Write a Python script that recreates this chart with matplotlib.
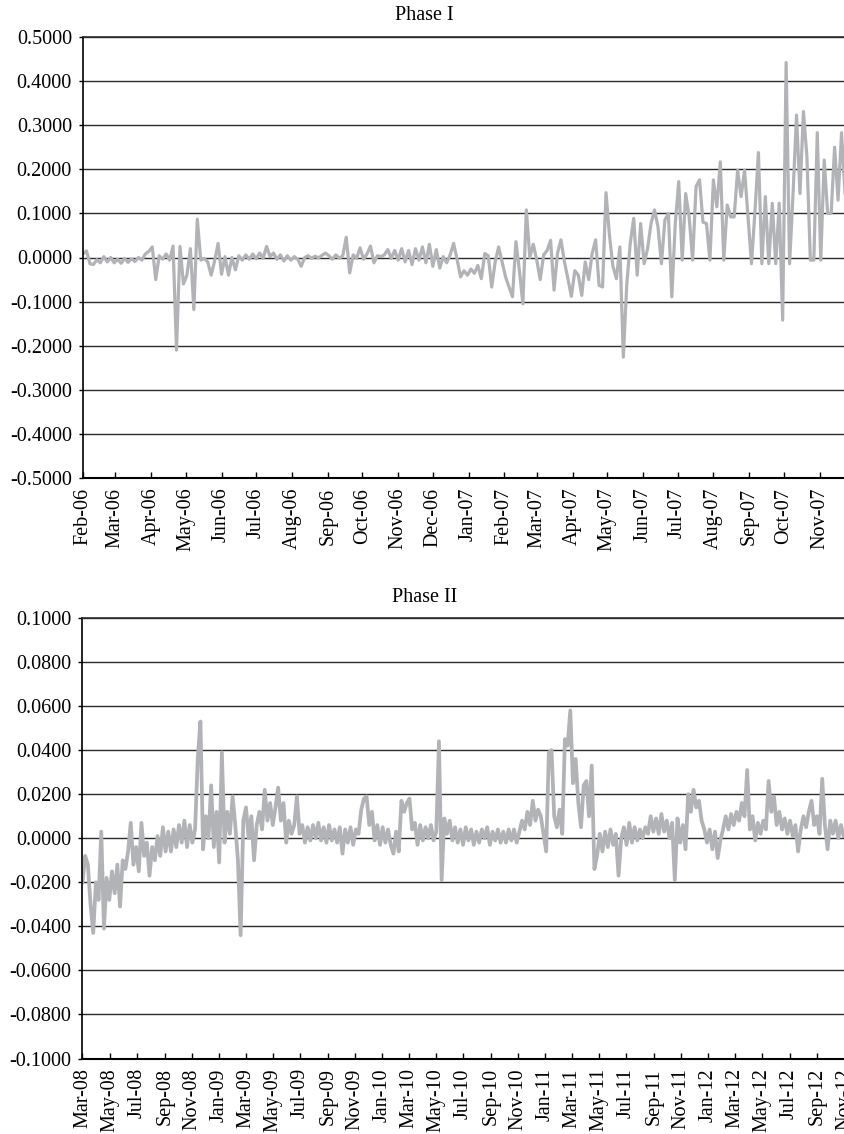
import numpy as np
import pandas as pd
import matplotlib
matplotlib.use('Agg')
import matplotlib.pyplot as plt
import matplotlib.dates as mdates
from matplotlib.ticker import FuncFormatter

plt.rcParams['font.family'] = ['Liberation Serif', 'DejaVu Serif']
plt.rcParams['font.size'] = 14.5

# Phase I: one reading every 3 days from 1 Feb 2006
phase1_start = '2006-02-01'
phase1 = [
    0.008, 0.015, -0.014, -0.016, -0.005, -0.012, 0.002, -0.010, 0.000, -0.012,
    -0.004, -0.013, -0.002, -0.011, -0.003, -0.009, 0.000, -0.006, 0.008, 0.014,
    0.024, -0.050, 0.004, -0.004, 0.008, -0.006, 0.026, -0.210, 0.025, -0.060,
    -0.040, 0.020, -0.118, 0.087, -0.006, -0.002, -0.010, -0.040, -0.008, 0.032,
    -0.038, 0.002, -0.040, 0.000, -0.028, 0.004, -0.006, 0.006, -0.004, 0.008,
    -0.003, 0.010, -0.002, 0.025, 0.002, 0.010, -0.004, 0.006, -0.008, 0.004,
    -0.006, 0.002, -0.004, -0.020, 0.000, 0.004, -0.002, 0.003, -0.001, 0.005,
    0.010, 0.004, -0.004, 0.006, -0.002, 0.004, 0.046, -0.035, 0.006, -0.002,
    0.022, -0.004, 0.008, 0.026, -0.012, 0.004, 0.002, 0.006, 0.018, -0.002,
    0.016, -0.006, 0.020, -0.010, 0.016, -0.016, 0.020, -0.006, 0.024, -0.012,
    0.030, -0.020, 0.018, -0.024, 0.002, -0.012, 0.006, 0.032, -0.004, -0.044,
    -0.030, -0.040, -0.026, -0.036, -0.018, -0.048, 0.009, 0.004, -0.067, -0.010,
    0.024, -0.010, -0.044, -0.067, -0.089, 0.036, -0.030, -0.105, 0.108, 0.000,
    0.030, -0.006, -0.050, 0.006, 0.016, 0.039, -0.074, 0.010, 0.040, -0.010,
    -0.048, -0.088, -0.030, -0.040, -0.086, -0.010, -0.050, 0.009, 0.040, -0.063,
    -0.067, 0.147, 0.050, -0.020, -0.048, 0.024, -0.226, -0.060, 0.032, 0.089,
    -0.040, 0.077, -0.014, 0.020, 0.077, 0.108, 0.070, -0.014, 0.085, 0.100,
    -0.089, 0.077, 0.172, -0.006, 0.145, 0.092, -0.006, 0.161, 0.176, 0.080,
    0.077, -0.006, 0.176, 0.115, 0.217, -0.006, 0.119, 0.092, 0.092, 0.198,
    0.138, 0.198, 0.092, -0.014, 0.104, 0.238, -0.014, 0.138, -0.014, 0.123,
    -0.014, 0.123, -0.142, 0.442, -0.014, 0.145, 0.323, 0.145, 0.331, 0.229,
    -0.006, -0.006, 0.283, -0.006, 0.221, 0.100, 0.100, 0.250, 0.130, 0.283,
    0.145,
]

# Phase II: one reading every 6 days from 1 Mar 2008
phase2_start = '2008-03-01'
phase2 = [
    -0.020, -0.008, -0.012, -0.030, -0.043, -0.020, -0.028, 0.003, -0.041, -0.018,
    -0.028, -0.015, -0.025, -0.012, -0.031, -0.010, -0.014, -0.006, 0.007, -0.012,
    -0.004, -0.015, 0.007, -0.008, -0.002, -0.017, -0.004, -0.010, 0.001, -0.008,
    0.005, -0.006, 0.003, -0.006, 0.004, -0.004, 0.006, -0.002, 0.008, -0.004,
    0.006, -0.002, 0.004, 0.036, 0.053, -0.005, 0.010, 0.000, 0.024, -0.004,
    0.012, -0.011, 0.039, -0.002, 0.012, 0.002, 0.019, 0.006, -0.010, -0.044,
    0.008, 0.014, 0.000, 0.010, -0.010, 0.006, 0.012, 0.004, 0.022, 0.008,
    0.016, 0.006, 0.014, 0.023, 0.008, 0.016, -0.002, 0.008, 0.002, 0.006,
    0.019, 0.002, 0.006, -0.002, 0.005, -0.001, 0.006, 0.000, 0.007, -0.001,
    0.005, -0.002, 0.006, -0.001, 0.004, -0.002, 0.005, -0.007, 0.004, -0.002,
    0.005, -0.003, 0.004, 0.002, 0.013, 0.018, 0.019, 0.006, 0.012, -0.001,
    0.006, -0.003, 0.005, -0.002, 0.004, -0.003, -0.007, 0.003, -0.006, 0.017,
    0.012, 0.016, 0.018, 0.004, 0.007, -0.003, 0.006, -0.001, 0.005, 0.000,
    0.006, -0.001, 0.003, 0.044, -0.019, 0.009, 0.002, 0.008, -0.001, 0.005,
    -0.002, 0.004, -0.003, 0.005, -0.001, 0.004, -0.003, 0.003, -0.002, 0.004,
    0.000, 0.005, -0.003, 0.003, -0.001, 0.004, -0.002, 0.003, -0.002, 0.004,
    -0.001, 0.004, -0.002, 0.003, 0.008, 0.004, 0.012, 0.006, 0.017, 0.008,
    0.013, 0.010, 0.002, -0.006, 0.039, 0.040, 0.010, 0.005, 0.013, 0.002,
    0.045, 0.042, 0.058, 0.025, 0.036, 0.016, 0.005, 0.024, 0.026, 0.010,
    0.033, -0.014, -0.008, 0.002, -0.006, 0.003, -0.004, 0.004, -0.003, 0.002,
    -0.017, 0.000, 0.005, -0.003, 0.007, -0.002, 0.005, -0.001, 0.004, 0.000,
    0.005, 0.002, 0.010, 0.003, 0.009, 0.002, 0.011, 0.003, 0.008, 0.000,
    0.007, -0.019, 0.009, -0.002, 0.006, -0.005, 0.020, 0.012, 0.022, 0.014,
    0.017, 0.008, 0.004, -0.002, 0.004, -0.005, 0.003, -0.009, -0.001, 0.004,
    0.010, 0.004, 0.011, 0.006, 0.012, 0.008, 0.016, 0.010, 0.031, 0.004,
    0.010, -0.001, 0.007, 0.002, 0.008, 0.004, 0.026, 0.012, 0.019, 0.006,
    0.012, 0.004, 0.009, 0.002, 0.008, 0.001, 0.006, -0.006, 0.004, 0.010,
    0.005, 0.012, 0.017, 0.006, 0.010, 0.002, 0.027, 0.006, -0.005, 0.008,
    0.002, 0.008, 0.000, 0.006, 0.001,
]

dates1 = pd.date_range(phase1_start, periods=len(phase1), freq='3D')
dates2 = pd.date_range(phase2_start, periods=len(phase2), freq='6D')

line_color = '#b2b3b7'
grid_color = '#2b2b2b'

fig = plt.figure(figsize=(8.45, 11.34), dpi=100)
ax1 = fig.add_axes([83 / 845, 1 - 478 / 1134, 762 / 845, 441 / 1134])
ax2 = fig.add_axes([82.5 / 845, 1 - 1058.5 / 1134, 762.5 / 845, 440.5 / 1134])


def fmt4(v, pos):
    v = round(v, 6)
    if v == 0:
        v = 0.0
    return f'{v:.4f}'


def style(ax, ymax, ystep):
    ax.set_ylim(-ymax, ymax)
    ax.set_yticks(np.round(np.arange(-ymax, ymax + ystep / 2, ystep), 6))
    ax.yaxis.set_major_formatter(FuncFormatter(fmt4))
    ax.grid(axis='y', color=grid_color, lw=1.0)
    ax.set_axisbelow(True)
    ax.spines['right'].set_visible(False)
    ax.spines['top'].set_color(grid_color)
    ax.spines['top'].set_linewidth(1.2)
    ax.spines['left'].set_linewidth(1.2)
    ax.spines['bottom'].set_linewidth(1.5)
    ax.tick_params(axis='y', direction='out', length=3, width=1, pad=5)
    ax.tick_params(axis='x', direction='in', length=4, width=1, pad=7,
                   rotation=90)
    ax.xaxis.set_major_formatter(mdates.DateFormatter('%b-%y'))


ax1.plot(dates1, phase1, color=line_color, lw=2.3)
style(ax1, 0.5, 0.1)
ax1.set_xlim(pd.Timestamp('2006-02-01'), pd.Timestamp('2007-11-23'))
ax1.xaxis.set_major_locator(mdates.MonthLocator())

ax2.plot(dates2, phase2, color=line_color, lw=2.7)
style(ax2, 0.1, 0.02)
ax2.set_xlim(pd.Timestamp('2008-03-01'), pd.Timestamp('2012-11-02'))
ax2.xaxis.set_major_locator(mdates.MonthLocator(bymonth=[1, 3, 5, 7, 9, 11]))

fig.text(424 / 845, 1 - 15 / 1134, 'Phase I', ha='center', va='center')
fig.text(425 / 845, 1 - 597 / 1134, 'Phase II', ha='center', va='center')

fig.savefig('out.png', dpi=100)
